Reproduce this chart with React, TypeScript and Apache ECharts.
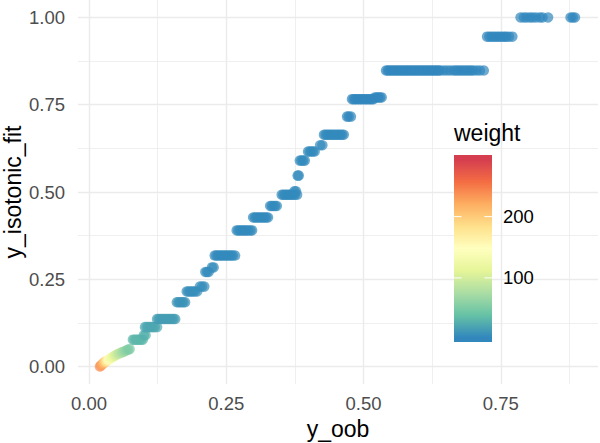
import React, { useEffect, useRef } from "react";
import * as echarts from "echarts";

// ---- data ----
const rampOob = [0.020, 0.022, 0.024, 0.026, 0.028, 0.030, 0.032, 0.034, 0.036, 0.038, 0.041, 0.044, 0.047, 0.050, 0.053, 0.056, 0.059, 0.062, 0.065, 0.068, 0.071, 0.074];
const rampFit = [0.000, 0.003, 0.006, 0.009, 0.012, 0.014, 0.016, 0.018, 0.020, 0.022, 0.025, 0.028, 0.031, 0.034, 0.036, 0.038, 0.040, 0.042, 0.044, 0.046, 0.048, 0.050];
const rampWeight = [240, 234, 226, 216, 204, 190, 176, 162, 150, 138, 126, 116, 106, 98, 90, 84, 78, 72, 66, 60, 55, 50];

const stepFit = [0.077, 0.090, 0.113, 0.136, 0.184, 0.215, 0.229, 0.271, 0.284, 0.318, 0.390, 0.427, 0.460, 0.492, 0.502, 0.547, 0.590, 0.616, 0.634, 0.664, 0.716, 0.766, 0.771, 0.848, 0.945, 1.000];
const stepWeight = [32, 28, 22, 16, 10, 7, 6, 5, 5, 4, 4, 4, 4, 4, 4, 4, 4, 4, 4, 4, 3, 3, 3, 3, 3, 3];
const stepOob = [
  [0.080, 0.083, 0.086, 0.089, 0.092, 0.095, 0.098],
  [0.100, 0.103],
  [0.102, 0.105, 0.108, 0.111, 0.114, 0.117, 0.120, 0.124],
  [0.124, 0.127, 0.130, 0.133, 0.136, 0.139, 0.142, 0.145, 0.148, 0.151, 0.154, 0.157],
  [0.160, 0.163, 0.166, 0.169, 0.172, 0.175],
  [0.178, 0.181, 0.184, 0.187, 0.190, 0.193, 0.197],
  [0.202, 0.206, 0.210],
  [0.212, 0.215, 0.218],
  [0.224, 0.227],
  [0.229, 0.232, 0.235, 0.238, 0.241, 0.244, 0.247, 0.250, 0.253, 0.256, 0.259, 0.262, 0.266],
  [0.269, 0.272, 0.275, 0.278, 0.281, 0.284, 0.287, 0.290, 0.294, 0.297],
  [0.299, 0.302, 0.305, 0.308, 0.311, 0.314, 0.317, 0.320, 0.323, 0.326],
  [0.330, 0.333, 0.336, 0.339, 0.342],
  [0.351, 0.354, 0.357, 0.360, 0.363, 0.366, 0.369, 0.372, 0.375, 0.379],
  [0.374, 0.377],
  [0.380, 0.382],
  [0.384, 0.387, 0.390, 0.393],
  [0.399, 0.402, 0.405, 0.408, 0.411],
  [0.421, 0.425],
  [0.428, 0.431, 0.434, 0.437, 0.440, 0.443, 0.446, 0.449, 0.452, 0.455, 0.458, 0.461, 0.464],
  [0.470, 0.473, 0.477],
  [0.479, 0.482, 0.485, 0.488, 0.491, 0.494, 0.497, 0.500, 0.503, 0.506, 0.509, 0.512, 0.515, 0.518],
  [0.521, 0.524, 0.527, 0.530, 0.533],
  [0.541, 0.544, 0.547, 0.550, 0.553, 0.556, 0.559, 0.562, 0.565, 0.568, 0.571, 0.574, 0.577, 0.580, 0.583, 0.586, 0.589, 0.592, 0.595, 0.598, 0.601, 0.604, 0.607, 0.610, 0.613, 0.616, 0.619, 0.622, 0.625, 0.628, 0.631, 0.634, 0.637, 0.640, 0.646, 0.652, 0.658, 0.664, 0.668, 0.672, 0.676, 0.680, 0.684, 0.688, 0.692, 0.696, 0.700, 0.706, 0.712, 0.719],
  [0.725, 0.729, 0.733, 0.737, 0.741, 0.745, 0.749, 0.753, 0.757, 0.760, 0.765, 0.771],
  [0.786, 0.792, 0.797, 0.803, 0.808, 0.814, 0.821, 0.826, 0.836, 0.877, 0.881, 0.885],
];

const weightMin = 3;
const weightMax = 293;
const legendBreaks = [100, 200];
const spectral = ["#3288BD", "#66C2A5", "#ABDDA4", "#E6F598", "#FFFFBF", "#FEE08B", "#FDAE61", "#F46D43", "#D53E4F"];

const xAxisTitle = "y_oob";
const yAxisTitle = "y_isotonic_fit";
const legendTitle = "weight";

const FONT = "'Liberation Sans', Arial, Helvetica, sans-serif";

export default function App() {
  const ref = useRef<HTMLDivElement>(null);

  useEffect(() => {
    if (!ref.current) return;
    const chart = echarts.init(ref.current, undefined, { renderer: "svg" });

    const points: number[][] = [];
    rampOob.forEach((x, i) => points.push([x, rampFit[i], rampWeight[i]]));
    stepOob.forEach((xs, s) => xs.forEach((x) => points.push([x, stepFit[s], stepWeight[s]])));

    // legend colourbar geometry
    const barX = 454;
    const barY = 155;
    const barW = 38;
    const barH = 187;
    const posOf = (v: number) =>
      barY + barH - barH * (0.025 + 0.95 * (v - weightMin) / (weightMax - weightMin));

    const stops = spectral
      .slice()
      .reverse()
      .map((c, i, arr) => ({ offset: 0.025 + 0.95 * i / (arr.length - 1), color: c }));
    stops.unshift({ offset: 0, color: spectral[spectral.length - 1] });
    stops.push({ offset: 1, color: spectral[0] });

    const graphics: any[] = [
      {
        type: "text",
        x: 13,
        y: 192,
        rotation: Math.PI / 2,
        z: 100,
        style: { text: yAxisTitle, fontSize: 23, fontFamily: FONT, fill: "#000", verticalAlign: "middle", align: "center" },
      },
      {
        type: "text",
        x: barX,
        y: 133,
        z: 100,
        style: { text: legendTitle, fontSize: 23, fontFamily: FONT, fill: "#000", verticalAlign: "middle", align: "left" },
      },
      {
        type: "rect",
        z: 100,
        shape: { x: barX, y: barY, width: barW, height: barH },
        style: { fill: new echarts.graphic.LinearGradient(0, 0, 0, 1, stops) },
      },
    ];
    legendBreaks.forEach((b) => {
      const y = posOf(b);
      graphics.push(
        { type: "line", z: 101, shape: { x1: barX, y1: y, x2: barX + barW / 5, y2: y }, style: { stroke: "#fff", lineWidth: 1 } },
        { type: "line", z: 101, shape: { x1: barX + barW - barW / 5, y1: y, x2: barX + barW, y2: y }, style: { stroke: "#fff", lineWidth: 1 } },
        {
          type: "text",
          z: 100,
          x: barX + barW + 11,
          y,
          style: { text: String(b), fontSize: 18.5, fontFamily: FONT, fill: "#000", verticalAlign: "middle", align: "left" },
        }
      );
    });

    const axisCommon = {
      type: "value" as const,
      minInterval: 0.25,
      maxInterval: 0.25,
      splitNumber: 4,
      axisLine: { show: false },
      axisTick: { show: false },
      splitLine: { show: true, showMinLine: false, showMaxLine: false, lineStyle: { color: "#ebebeb", width: 1.4 } },
      minorTick: { show: false, splitNumber: 2 },
      minorSplitLine: { show: true, lineStyle: { color: "#ebebeb", width: 0.8 } },
    };

    const labelCommon = {
      color: "#4d4d4d",
      fontSize: 18.5,
      fontFamily: FONT,
      showMinLabel: false,
      showMaxLabel: false,
      formatter: (v: number) => v.toFixed(2),
    };

    chart.setOption({
      animation: false,
      backgroundColor: "#fff",
      textStyle: { fontFamily: FONT },
      grid: { left: 78, right: 2, top: 0, bottom: 59, containLabel: false, outerBoundsMode: "none" },
      xAxis: {
        ...axisCommon,
        min: -0.02,
        max: 0.927,
        name: xAxisTitle,
        nameLocation: "middle",
        nameGap: 33,
        nameMoveOverlap: false,
        nameTextStyle: { fontSize: 23, fontFamily: FONT, color: "#000" },
        axisLabel: { ...labelCommon, margin: 10 },
      },
      yAxis: {
        ...axisCommon,
        min: -0.05,
        max: 1.05,
        axisLabel: { ...labelCommon, margin: 13 },
      },
      visualMap: {
        type: "continuous",
        show: false,
        dimension: 2,
        min: weightMin,
        max: weightMax,
        seriesIndex: 0,
        inRange: { color: spectral },
      },
      series: [
        {
          type: "scatter",
          data: points,
          symbol: "circle",
          symbolSize: 10.5,
          itemStyle: { opacity: 0.7 },
          silent: true,
        },
      ],
      graphic: graphics,
    });

    return () => chart.dispose();
  }, []);

  return (
    <div
      ref={ref}
      style={{ position: "fixed", left: 0, top: 0, width: 600, height: 443, background: "#fff" }}
    />
  );
}
